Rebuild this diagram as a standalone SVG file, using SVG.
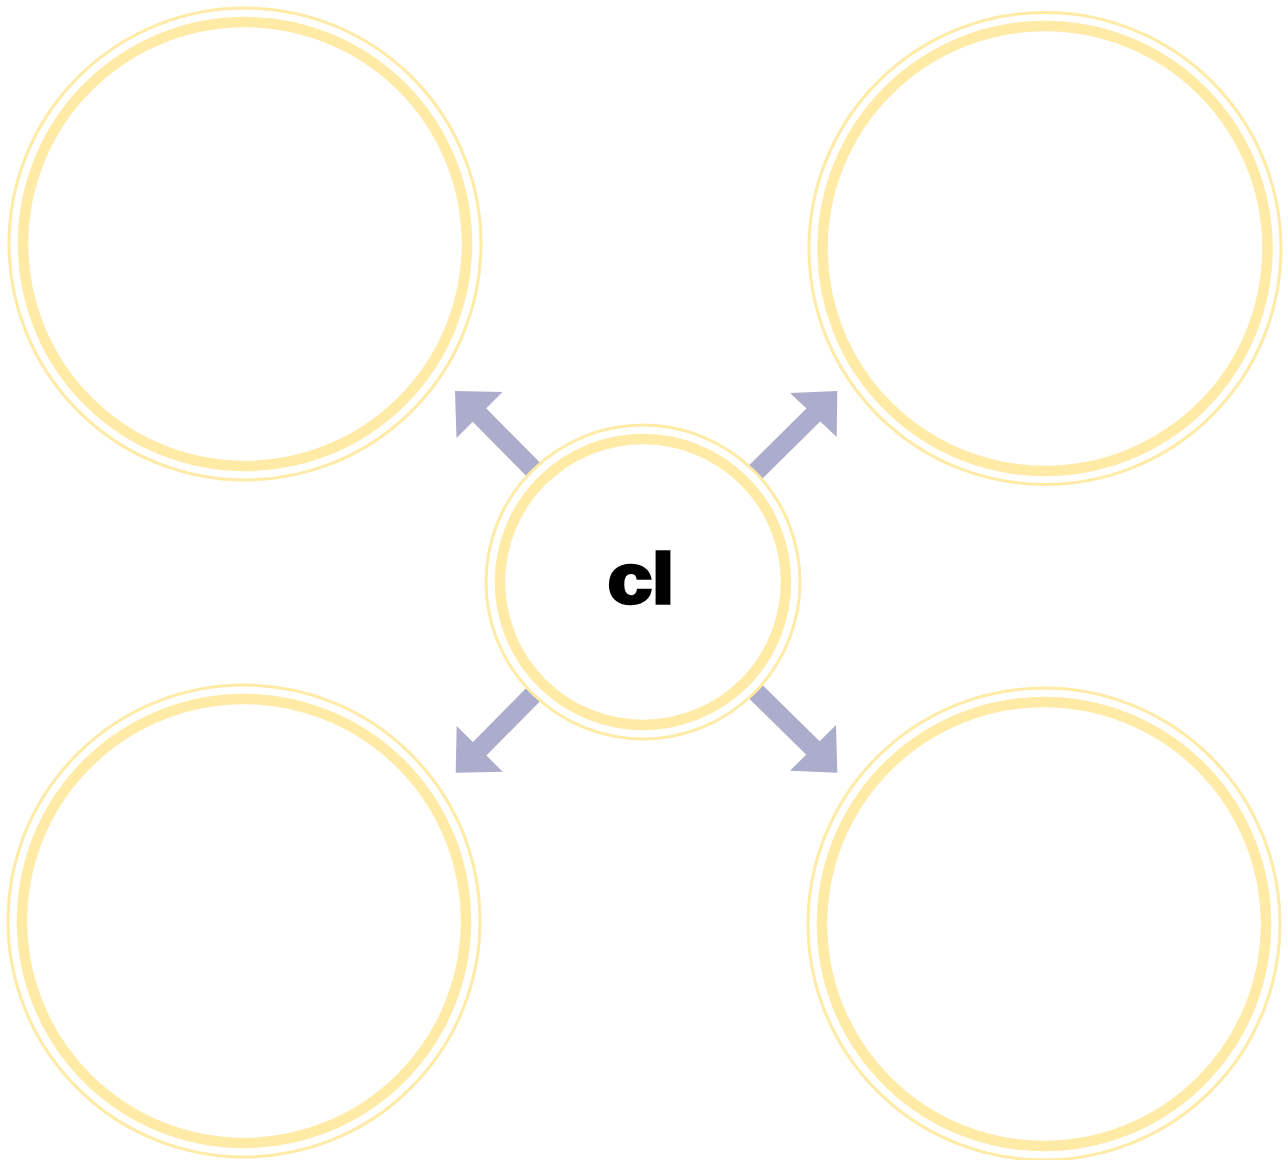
<svg xmlns="http://www.w3.org/2000/svg" width="1288" height="1160" viewBox="0 0 1288 1160">
<style>
.thin{fill:#fff;stroke:#FFEAA6;stroke-width:3}
.thick{fill:none;stroke:#FFEAA6;stroke-width:10.5}
.shaft{stroke:#ACACCC;stroke-width:19;fill:none}
.head{fill:#ACACCC}
.lbl{font-family:"Liberation Sans",Arial,sans-serif;font-weight:bold;font-size:71px;fill:#000;stroke:#000;stroke-width:3.5;stroke-linejoin:miter}
</style>
<rect width="1288" height="1160" fill="#fff"/>
<g id="connectors">
<line class="shaft" x1="477" y1="412.5" x2="600" y2="537"/>
<polygon class="head" points="455,391 502.5,392 456.5,438"/>
<line class="shaft" x1="815.8" y1="412.5" x2="690" y2="537"/>
<polygon class="head" points="837.3,391 790,393 836.7,437"/>
<line class="shaft" x1="477.2" y1="751.3" x2="600" y2="627"/>
<polygon class="head" points="455.7,772.7 456.7,726 502.7,771.7"/>
<line class="shaft" x1="815.5" y1="750.5" x2="690" y2="627"/>
<polygon class="head" points="837.3,772.7 790,770.7 836,725"/>
</g>
<g id="node-center">
<circle class="thin" cx="643" cy="582" r="157"/>
<circle class="thick" cx="643" cy="582" r="143"/>
<text class="lbl" transform="translate(641,603) scale(1.12,1)" text-anchor="middle">cl</text>
</g>
<g id="node-tl">
<circle class="thin" cx="245" cy="244" r="236"/>
<circle class="thick" cx="245" cy="244" r="222"/>
</g>
<g id="node-tr">
<circle class="thin" cx="1045" cy="248.5" r="236"/>
<circle class="thick" cx="1045" cy="248.5" r="222.5"/>
</g>
<g id="node-bl">
<circle class="thin" cx="244" cy="921" r="236"/>
<circle class="thick" cx="244" cy="921" r="222"/>
</g>
<g id="node-br">
<circle class="thin" cx="1044" cy="924" r="236"/>
<circle class="thick" cx="1044" cy="924" r="222"/>
</g>
</svg>
